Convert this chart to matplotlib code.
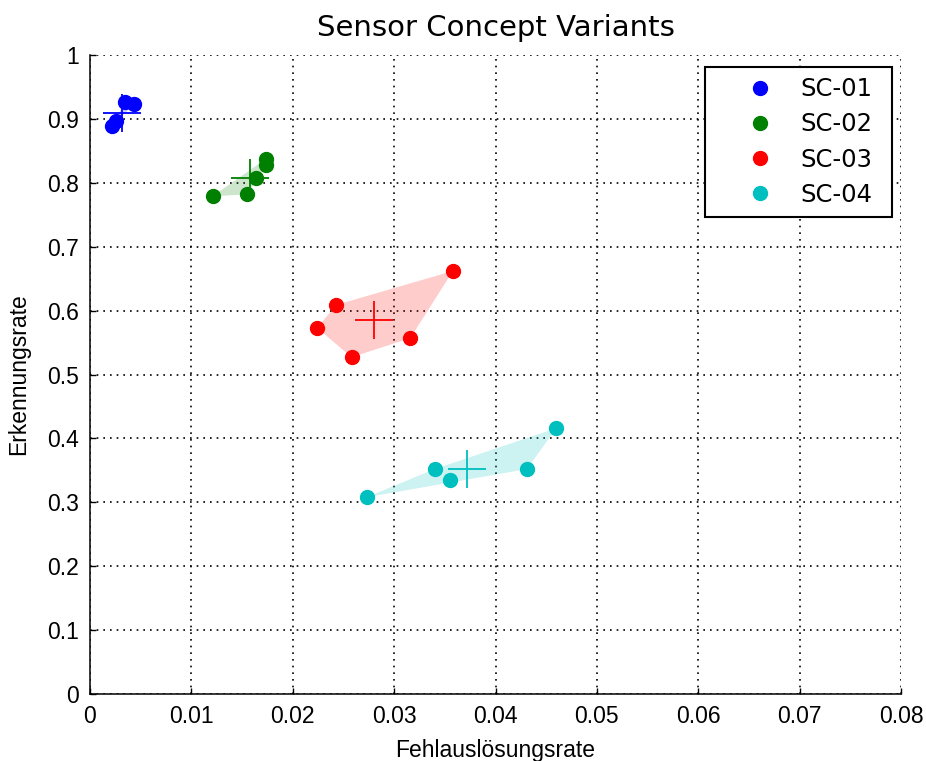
import numpy as np
import matplotlib
matplotlib.use("Agg")
import matplotlib.pyplot as plt

labels = ["SC-01", "SC-02", "SC-03", "SC-04"]
colors = ["#0000ff", "#008000", "#ff0000", "#00bfbf"]

sc01_x = [0.00217, 0.00257, 0.00345, 0.00434]
sc01_y = [0.889, 0.897, 0.926, 0.923]
sc02_x = [0.0121, 0.0155, 0.0164, 0.0174, 0.0174]
sc02_y = [0.779, 0.782, 0.807, 0.828, 0.838]
sc03_x = [0.0224, 0.0243, 0.0258, 0.0316, 0.0358]
sc03_y = [0.573, 0.609, 0.527, 0.557, 0.662]
sc04_x = [0.0273, 0.0340, 0.0355, 0.0431, 0.0460]
sc04_y = [0.308, 0.352, 0.335, 0.352, 0.416]

xs = [sc01_x, sc02_x, sc03_x, sc04_x]
ys = [sc01_y, sc02_y, sc03_y, sc04_y]


def hull(px, py):
    # monotone chain convex hull
    pts = sorted(set(zip(px, py)))
    if len(pts) < 3:
        return pts

    def cross(o, a, b):
        return (a[0] - o[0]) * (b[1] - o[1]) - (a[1] - o[1]) * (b[0] - o[0])

    lo, up = [], []
    for p in pts:
        while len(lo) >= 2 and cross(lo[-2], lo[-1], p) <= 0:
            lo.pop()
        lo.append(p)
    for p in reversed(pts):
        while len(up) >= 2 and cross(up[-2], up[-1], p) <= 0:
            up.pop()
        up.append(p)
    return lo[:-1] + up[:-1]


tick_font = "Liberation Sans"
fig = plt.figure(figsize=(9.26, 7.61), dpi=100)
ax = fig.add_axes([90 / 926, 1 - 694 / 761, 811 / 926, 639 / 761])

for x, y, c, lab in zip(xs, ys, colors, labels):
    h = np.array(hull(x, y))
    ax.fill(h[:, 0], h[:, 1], color=c, alpha=0.2, lw=0, zorder=2)
    ax.plot(x, y, "o", color=c, ms=10, mec=c, ls="none", label=lab, zorder=4)
    ax.plot(np.mean(x), np.mean(y), "+", color=c, ms=27, mew=1.3, zorder=3)

ax.set_xlim(0, 0.08)
ax.set_ylim(0, 1)
ax.set_xticks(np.arange(0, 0.081, 0.01))
ax.set_yticks(np.arange(0, 1.01, 0.1))
ax.set_xticklabels(["0", "0.01", "0.02", "0.03", "0.04", "0.05", "0.06", "0.07", "0.08"])
ax.set_yticklabels(["0", "0.1", "0.2", "0.3", "0.4", "0.5", "0.6", "0.7", "0.8", "0.9", "1"])
ax.grid(True, color="black", lw=1.2, ls=(0, (1, 3)))
ax.set_axisbelow(True)
for s in ("top", "right"):
    ax.spines[s].set_visible(False)
for s in ("left", "bottom"):
    ax.spines[s].set_linewidth(1.1)
ax.tick_params(direction="in", length=4, width=1, labelsize=16.5, pad=8)
for t in ax.get_xticklabels() + ax.get_yticklabels():
    t.set_fontfamily(tick_font)

ax.set_xlabel("Fehlauslösungsrate", fontsize=16.5, family=tick_font, labelpad=8)
ax.set_ylabel("Erkennungsrate", fontsize=16.5, family=tick_font, labelpad=12)
ax.set_title("Sensor Concept Variants", fontsize=21, family="DejaVu Sans", pad=14)

leg = ax.legend(loc="upper left", bbox_to_anchor=(0.7583, 0.7496, 0.2306, 0.2316),
                mode="expand", fontsize=17.5, frameon=True, fancybox=False,
                borderpad=0.42, labelspacing=0.46, handlelength=3.7, handletextpad=-0.2,
                borderaxespad=0)
leg.get_frame().set_edgecolor("black")
leg.get_frame().set_linewidth(1.5)
leg.get_frame().set_alpha(1)

fig.savefig("out.png", dpi=100)
